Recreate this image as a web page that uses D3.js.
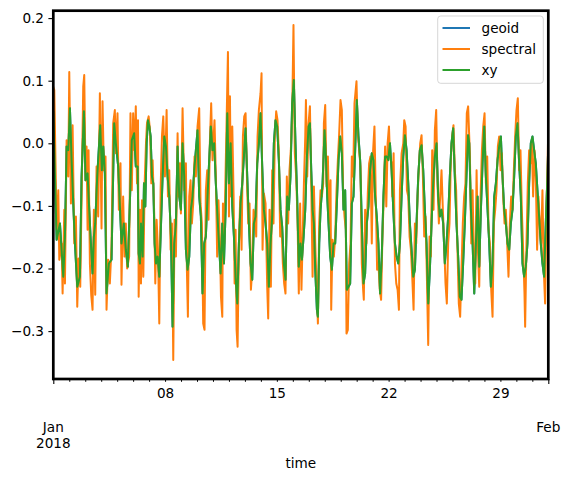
<!DOCTYPE html>
<html><head><meta charset="utf-8">
<script src="https://cdn.jsdelivr.net/npm/d3@7"></script>
<style>body{margin:0;background:#fff} svg{display:block} text{font-family:"DejaVu Sans",sans-serif}</style>
</head><body>
<svg id="chart" width="571" height="481"></svg>
<script>
// ---- data (hours since 2018-01-01 00:00 UTC, value) ----
const seriesNames = ["geoid", "spectral", "xy"];
const seriesColors = ["#1f77b4", "#ff7f0e", "#2ca02c"];
const yTicks = [-0.3, -0.2, -0.1, 0.0, 0.1, 0.2];
const dayTickLabels = {8: "08", 15: "15", 22: "22", 29: "29"};
const monthTickLabels = [["Jan", "2018"], ["Feb"]];
const xLabel = "time";

const spectral = [
[0,0.090],[1.5,0.085],[5,-0.138],[7.5,-0.075],[9,-0.186],[12.5,-0.160],[14,-0.240],[16.5,-0.106],[17.5,-0.224],[20,0.005],[22.5,-0.053],[24,0.114],[26.5,-0.096],[29,0.029],[31.5,-0.160],[34,-0.117],[36,-0.261],[38,-0.184],[40.5,-0.229],[43,-0.053],[45,0.091],[46.5,0.109],[48.5,-0.059],[50,-0.005],[51.5,-0.138],[53,-0.011],[55,-0.192],[57,-0.242],[59,-0.266],[61,-0.106],[63,-0.242],[65,-0.037],[67.5,-0.117],[70,0.080],[72.5,-0.136],[74,0.067],[76,-0.043],[78.5,-0.021],[80,-0.266],[82.5,-0.186],[85,-0.224],[87.5,-0.165],[90,0.032],[92.5,0.053],[94,-0.016],[96.5,0.048],[98.5,-0.106],[101,-0.032],[102.5,-0.226],[105,-0.085],[107,-0.181],[109,-0.128],[111,-0.200],[114,-0.181],[116,0.048],[118,-0.075],[120,0.048],[122,-0.011],[124,0.059],
[125.8,-0.064],[127.3,0.037],[128.3,-0.245],[130.3,-0.106],[131.8,-0.224],[133.3,-0.091],[135.3,-0.213],[137.3,-0.064],[139.3,0.000],[140.8,0.032],[143.3,0.043],[145.3,0.021],[147.3,-0.064],[149.3,-0.027],[151.8,-0.117],[153.3,-0.224],[155.3,-0.122],[157.3,-0.170],[159.3,-0.288],[161.3,-0.075],[163.3,0.011],[165.3,0.043],[167.8,-0.053],[170.3,0.053],[172.3,-0.085],[174.3,-0.043],[176.3,-0.170],[178.3,-0.128],[180.3,-0.346],[182.3,-0.122],[184.3,-0.181],[186.8,0.016],[188.3,-0.085],[190.3,-0.032],[191.8,-0.112],[194.3,0.056],[196.8,-0.075],[199.3,-0.032],[200.8,-0.202],[202.3,-0.277],[204.3,-0.085],[206.3,-0.059],[208.3,-0.128],[210.3,-0.096],[212.3,-0.021],[214.3,-0.053],[216.8,0.027],[219.3,0.056],[221.3,-0.096],[223.3,-0.128],[225.3,-0.288],[227.3,-0.298],[229.3,-0.075],[231.3,-0.043],[233.3,-0.122],[235.3,0.000],[237.3,0.064],[239.3,-0.027],[242.3,0.037],[244.3,-0.053],[246.3,-0.181],[248.3,-0.091],
[250.5,-0.160],[252,-0.245],[254,-0.277],[255,-0.096],[257,-0.160],[259,-0.043],[261,0.064],[262.5,0.146],[264,-0.117],[265.5,0.075],[267,-0.085],[269,0.027],[271,-0.085],[272.5,-0.224],[274,-0.138],[275.5,-0.298],[277,-0.325],[279,-0.160],[281,-0.085],[283,-0.170],[285,0.011],[287,0.043],[289,0.048],[291.5,-0.075],[293,-0.128],[295,-0.096],[297,-0.234],[299,-0.202],[301,-0.106],[303,-0.117],[305,-0.149],[307,0.011],[309,0.053],[311.5,0.080],[313,0.112],[314.5,-0.170],[316.5,-0.080],[319,-0.096],[321.5,-0.229],[323,-0.280],[325,-0.106],[327,-0.229],[329,-0.043],[331,-0.128],[333,0.011],[335,0.051],[337,0.037],[339,-0.016],[341,-0.149],[343,-0.128],[345,-0.192],[347,-0.224],[349,-0.240],[351,-0.053],[353,-0.128],[355,-0.043],[357,-0.011],[359,0.043],[361,0.189],[363,-0.016],[365,-0.053],[367,-0.117],[369,-0.240],[371,-0.096],[373,-0.234],
[376.7,-0.064],[378.7,0.011],[379.7,0.069],[381.7,-0.053],[383.7,0.032],[385.7,0.059],[387.7,-0.064],[389.7,-0.213],[391.7,-0.069],[393.7,-0.160],[395.7,-0.224],[397.7,-0.288],[399.7,-0.128],[401.7,-0.075],[403.7,-0.085],[405.7,-0.064],[406.7,0.032],[408.7,0.061],[410.7,-0.069],[412.7,-0.021],[414.7,-0.128],[416.7,-0.059],[417.7,-0.266],[419.7,-0.154],[421.7,-0.181],[423.7,-0.149],[425.7,-0.075],[427.7,-0.027],[429.7,0.016],[431.7,0.069],[433.7,0.053],[435.7,-0.085],[437.7,-0.117],[439.7,-0.138],[440.7,-0.304],[442.7,-0.298],[444.7,-0.192],[446.7,-0.160],[448.7,-0.021],[450.7,-0.053],[452.7,0.064],[455.7,0.099],[457.7,0.016],[459.7,-0.011],[461.7,-0.037],[463.7,-0.192],[465.7,-0.234],[466.7,-0.250],[468.7,-0.106],[470.7,-0.160],[472.7,-0.080],[474.7,-0.032],[476.7,-0.021],[478.7,-0.160],[480.7,-0.011],[482.7,0.027],[484.7,-0.085],[486.7,-0.202],[488.7,-0.192],[490.7,-0.234],[492.7,-0.250],[494.7,-0.149],[496.7,-0.085],[498.7,-0.005],
[500.5,-0.101],[502.5,0.000],[504.5,0.027],[506,-0.021],[508.5,-0.032],[509.5,-0.085],[511.5,-0.016],[513.5,-0.192],[515.5,-0.224],[517.5,-0.234],[519.5,-0.266],[521,-0.075],[523.5,-0.016],[526,0.000],[527.5,0.037],[529.5,0.027],[531.5,-0.075],[533.5,-0.085],[535.5,-0.149],[537.5,-0.170],[539.5,-0.213],[541.5,-0.266],[543.5,-0.128],[545.5,-0.160],[547.5,-0.085],[549.5,-0.037],[551.5,0.000],[553.5,0.013],[555.5,-0.053],[557.5,-0.149],[559.5,-0.117],[561.5,-0.213],[563.5,-0.322],[565.5,-0.149],[567.5,-0.181],[569.5,-0.011],[571.5,-0.106],[573.5,0.021],[575.5,0.053],[577.5,-0.064],[579.5,-0.128],[581.5,-0.085],[583.5,-0.043],[585.5,-0.106],[587.5,-0.160],[589.5,-0.224],[591.5,-0.256],[593.5,-0.160],[595.5,-0.128],[597.5,-0.027],[599.5,0.011],[601.5,0.029],[603.5,-0.043],[605.5,-0.075],[607.5,-0.170],[609.5,-0.256],[611.5,-0.277],[613.5,-0.202],[615.5,-0.128],[617.5,-0.085],[619.5,-0.064],[621.5,0.048],[623.5,0.059],
[626.2,-0.021],[628.2,-0.160],[630.2,-0.075],[632.2,-0.192],[634.2,-0.224],[636.2,-0.043],[638.2,-0.170],[640.2,-0.229],[642.2,-0.085],[644.2,-0.011],[646.2,0.027],[648.2,0.048],[650.2,-0.064],[652.2,-0.021],[654.2,-0.138],[656.2,-0.160],[658.2,-0.234],[660.2,-0.277],[662.2,-0.128],[664.2,-0.106],[666.2,-0.075],[668.2,-0.005],[670.2,0.011],[672.2,-0.043],[674.2,-0.016],[676.2,-0.085],[678.2,-0.128],[680.2,-0.106],[682.2,-0.160],[684.2,-0.213],[686.2,-0.128],[688.2,-0.085],[690.2,-0.106],[692.2,-0.043],[694.2,0.011],[696.2,0.053],[698.2,0.072],[700.2,-0.043],[702.2,-0.011],[704.2,-0.106],[706.2,-0.170],[708.2,-0.240],[709.2,-0.293],[711.2,-0.160],[713.2,-0.064],[715.2,-0.011],[717.2,-0.032],[719.2,0.000],[721.2,-0.085],[723.2,-0.011],[725.2,-0.053],[727.2,-0.170],[729.2,-0.085],[731.2,-0.128],[733.2,-0.160],[735.2,-0.075],[737.2,-0.202],[739.2,-0.256],[741.2,-0.106],[743.2,-0.021],[744,0.030]
];

const xy = [
[0,0.050],[5,-0.154],[10,-0.128],[15,-0.213],[17.5,-0.149],[20,-0.005],[22.5,-0.011],[25,0.056],[27.5,-0.027],[30,-0.096],[32.5,-0.160],[36,-0.229],[40,-0.213],[42.5,-0.053],[46,0.051],[48.5,-0.059],[51.5,-0.048],[54,-0.106],[56.5,-0.160],[59,-0.208],[61,-0.149],[63,-0.128],[66,-0.053],[70.5,0.029],[73,-0.043],[75,-0.005],[77.5,-0.048],[80,-0.240],[83.5,-0.192],[87.5,-0.186],[91.5,0.032],[94,0.000],[97.5,-0.037],[102.5,-0.160],[106,-0.128],[109,-0.170],[112,-0.197],[116,-0.064],[118,0.005],[121.5,0.016],[124,-0.037],
[126.8,-0.037],[128.3,-0.176],[130.3,-0.192],[131.8,-0.128],[134.3,-0.181],[136.3,-0.064],[138.3,-0.101],[140.3,0.000],[142.3,0.037],[144.3,0.027],[146.3,0.011],[148.3,-0.053],[150.3,-0.064],[152.3,-0.160],[154.3,-0.192],[156.8,-0.181],[159.3,-0.213],[161.8,-0.133],[164.3,-0.053],[166.8,0.011],[169.3,-0.005],[171.8,-0.053],[174.3,-0.085],[176.8,-0.149],[179.3,-0.293],[181.8,-0.160],[184.3,-0.128],[186.8,-0.005],[189.3,-0.085],[191.8,-0.106],[194.3,0.000],[196.8,-0.053],[199.3,-0.170],[201.8,-0.202],[204.3,-0.181],[206.8,-0.106],[209.3,-0.085],[211.8,-0.043],[214.3,-0.011],[216.8,0.021],[219.3,-0.085],[221.8,-0.117],[224.3,-0.240],[226.8,-0.160],[229.3,-0.149],[231.8,-0.085],[234.3,-0.027],[236.8,0.027],[239.3,-0.011],[241.8,0.000],[244.3,-0.064],[246.8,-0.117],
[251.5,-0.208],[254,-0.128],[256.5,-0.192],[259,-0.106],[261.5,0.048],[264,-0.064],[266.5,0.000],[269,-0.101],[271.5,-0.149],[274,-0.213],[276.5,-0.256],[279,-0.160],[281.5,-0.096],[284,-0.064],[286.5,-0.021],[289,0.024],[291.5,-0.053],[294,-0.128],[296.5,-0.192],[299,-0.218],[301.5,-0.128],[304,-0.117],[306.5,-0.032],[309,0.000],[311.5,0.048],[314,-0.037],[316.5,-0.106],[319,-0.128],[321.5,-0.160],[324,-0.229],[326.5,-0.160],[329,-0.117],[331.5,0.000],[334,0.037],[336.5,0.027],[339,-0.027],[341.5,-0.106],[344,-0.133],[346.5,-0.192],[349,-0.218],[351.5,-0.085],[354,-0.106],[356.5,-0.053],[359,0.064],[361.5,0.101],[364,0.000],[366.5,-0.085],[369,-0.197],[371.5,-0.160],
[373.7,-0.186],[376.2,-0.149],[378.7,-0.106],[381.2,-0.021],[383.7,0.027],[385.7,0.032],[387.7,-0.043],[389.7,-0.106],[391.7,-0.128],[393.7,-0.202],[396.2,-0.266],[397.7,-0.277],[399.7,-0.160],[401.7,-0.106],[404.7,-0.064],[407.7,0.021],[409.7,-0.021],[411.7,-0.085],[413.7,-0.128],[416.2,-0.181],[418.7,-0.202],[421.2,-0.160],[423.7,-0.160],[426.2,-0.096],[428.7,-0.027],[431.2,0.011],[433.7,-0.016],[436.2,-0.106],[438.7,-0.075],[441.2,-0.234],[443.7,-0.229],[446.2,-0.224],[448.7,-0.096],[451.2,-0.085],[453.7,-0.011],[456.2,0.069],[458.7,0.011],[461.2,-0.027],[463.7,-0.128],[466.2,-0.224],[468.7,-0.208],[471.2,-0.128],[473.7,-0.101],[476.2,-0.043],[478.7,-0.016],[481.2,-0.027],[483.7,-0.085],[486.2,-0.117],[488.7,-0.160],[491.2,-0.240],[493.7,-0.181],[496.2,-0.085],[498.7,-0.021],
[501,-0.021],[503.5,-0.027],[506,0.000],[508.5,-0.043],[511,-0.106],[513.5,-0.160],[516,-0.181],[518.5,-0.192],[521,-0.160],[523.5,-0.085],[526,-0.021],[528.5,0.013],[531,-0.011],[533.5,-0.064],[536,-0.128],[538.5,-0.170],[541,-0.213],[543.5,-0.202],[546,-0.128],[548.5,-0.053],[551,-0.011],[553.5,-0.003],[556,-0.043],[558.5,-0.106],[561,-0.160],[563.5,-0.256],[566,-0.202],[568.5,-0.128],[571,-0.064],[573.5,-0.021],[576,0.000],[578.5,-0.085],[581,-0.117],[583.5,-0.106],[586,-0.128],[588.5,-0.192],[591,-0.160],[593.5,-0.117],[596,-0.053],[598.5,0.000],[601,0.024],[603.5,-0.053],[606,-0.128],[608.5,-0.181],[611,-0.245],[613.5,-0.250],[616,-0.192],[618.5,-0.128],[621,-0.053],[623.5,0.013],
[625.2,0.000],[627.7,-0.106],[630.2,-0.160],[632.7,-0.240],[635.2,-0.160],[637.7,-0.085],[640.2,-0.197],[642.7,-0.106],[645.2,-0.032],[647.7,0.027],[650.2,-0.053],[652.7,-0.106],[655.2,-0.160],[657.7,-0.229],[660.2,-0.192],[662.7,-0.085],[665.2,-0.064],[667.7,-0.027],[670.2,-0.005],[672.7,0.011],[675.2,-0.053],[677.7,-0.106],[680.2,-0.128],[682.7,-0.160],[685.2,-0.170],[687.7,-0.128],[690.2,-0.106],[692.7,-0.053],[695.2,0.011],[697.7,0.032],[700.2,-0.032],[702.7,-0.085],[705.2,-0.192],[707.7,-0.213],[710.2,-0.197],[712.7,-0.160],[715.2,-0.064],[717.7,0.000],[720.2,0.011],[722.7,-0.011],[725.2,-0.032],[727.7,-0.075],[730.2,-0.117],[732.7,-0.160],[735.2,-0.192],[737.7,-0.213],[740.2,-0.128],[742.7,-0.053],[744,0.000]
];

// geoid lies exactly under xy in the picture (never visible separately)
const geoid = xy;

// ---- layout ----
const svg = d3.select("#chart");
const L = 53.3, R = 548.3, T = 10.7, B = 379;
const t0 = Date.UTC(2018, 0, 1);
const toDate = h => new Date(t0 + h * 3600e3);

const x = d3.scaleUtc().domain([toDate(0), toDate(744)]).range([L, R]);
const y = d3.scaleLinear().domain([-0.3765, 0.2118]).range([B, T]);

svg.append("defs").append("clipPath").attr("id", "clip")
  .append("rect").attr("x", L).attr("y", T).attr("width", R - L).attr("height", B - T);

const line = d3.line().x(d => x(toDate(d[0]))).y(d => y(d[1]));
const allSeries = [geoid, spectral, xy];
const plot = svg.append("g").attr("clip-path", "url(#clip)");
allSeries.forEach((s, i) => {
  plot.append("path").datum(s).attr("d", line)
    .attr("fill", "none").attr("stroke", seriesColors[i])
    .attr("stroke-width", 2).attr("stroke-linejoin", "round").attr("stroke-linecap", "square");
});

const FS = 13.6;
// y axis
const yAxis = svg.append("g").attr("transform", `translate(${L},0)`)
  .call(d3.axisLeft(y).tickValues(yTicks).tickSize(4.9).tickPadding(4.4).tickFormat(d3.format(".1f")));
yAxis.select(".domain").remove();
yAxis.selectAll("line").attr("stroke", "#000").attr("stroke-width", 1.1);
yAxis.selectAll("text").attr("font-size", FS).attr("font-family", "DejaVu Sans").attr("fill", "#000");

// x axis: minor daily ticks
const days = d3.utcDay.range(toDate(24), toDate(744));
const xMinor = svg.append("g").attr("transform", `translate(0,${B})`)
  .call(d3.axisBottom(x).tickValues(days).tickSize(2.8).tickPadding(6.5)
    .tickFormat(d => dayTickLabels[d.getUTCDate()] || ""));
xMinor.select(".domain").remove();
xMinor.selectAll("line").attr("stroke", "#000").attr("stroke-width", 1);
xMinor.selectAll("text").attr("font-size", FS).attr("font-family", "DejaVu Sans").attr("fill", "#000");

// x axis: major month ticks
const months = [toDate(0), toDate(744)];
const xMajor = svg.append("g").attr("transform", `translate(0,${B})`)
  .call(d3.axisBottom(x).tickValues(months).tickSize(4.9).tickFormat(""));
xMajor.select(".domain").remove();
xMajor.selectAll("line").attr("stroke", "#000").attr("stroke-width", 1.1);
months.forEach((m, i) => {
  monthTickLabels[i].forEach((txt, j) => {
    svg.append("text").attr("x", x(m)).attr("y", 432 + j * 16.2)
      .attr("text-anchor", "middle").attr("font-size", FS).attr("fill", "#000").text(txt);
  });
});

svg.append("text").attr("x", (L + R) / 2).attr("y", 467.5)
  .attr("text-anchor", "middle").attr("font-size", FS).attr("fill", "#000").text(xLabel);

// frame
svg.append("rect").attr("x", L).attr("y", T).attr("width", R - L).attr("height", B - T)
  .attr("fill", "none").attr("stroke", "#000").attr("stroke-width", 2.7);

// legend
const lg = svg.append("g");
lg.append("rect").attr("x", 437.7).attr("y", 16).attr("width", 105.6).attr("height", 67.3)
  .attr("rx", 3).attr("fill", "#fff").attr("fill-opacity", 0.8)
  .attr("stroke", "#cccccc").attr("stroke-opacity", 0.8).attr("stroke-width", 1);
seriesNames.forEach((n, i) => {
  const yy = 28 + i * 21;
  lg.append("line").attr("x1", 442.5).attr("x2", 470).attr("y1", yy).attr("y2", yy)
    .attr("stroke", seriesColors[i]).attr("stroke-width", 2);
  lg.append("text").attr("x", 481.5).attr("y", yy).attr("dy", "0.36em")
    .attr("font-size", FS).attr("fill", "#000").text(n);
});
</script>
</body></html>
